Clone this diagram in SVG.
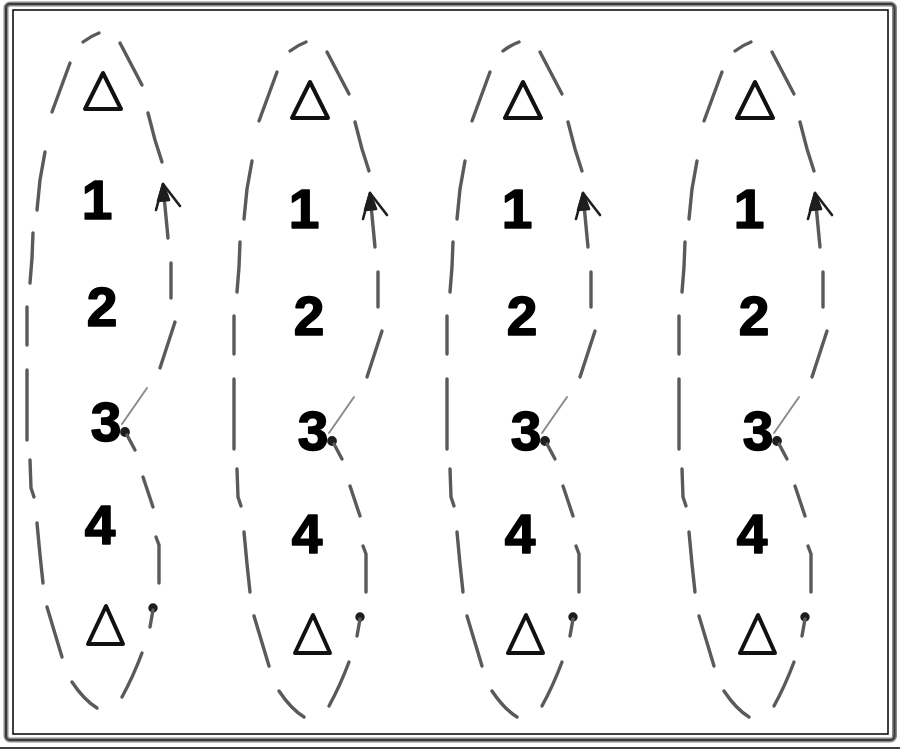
<svg xmlns="http://www.w3.org/2000/svg" xmlns:xlink="http://www.w3.org/1999/xlink" width="900" height="750" viewBox="0 0 900 750">
<style>
.dash{fill:none;stroke:#5a5a5a;stroke-width:3.4;stroke-linecap:round;stroke-linejoin:round}
.thin{fill:none;stroke:#8c8c8c;stroke-width:2;stroke-linecap:round}
.head{fill:#1e1e1e;stroke:#1e1e1e;stroke-width:2.6;stroke-linecap:round;stroke-linejoin:round}
.tri{fill:none;stroke:#111;stroke-width:4;stroke-linejoin:round}
.num{font-family:"Liberation Sans",Arial,sans-serif;font-weight:bold;font-size:55px;fill:#000;stroke:#000;stroke-width:1.6;stroke-linejoin:round;text-anchor:middle}
</style>
<defs>
<g id="loop">
<path class="dash" d="M83,42 Q91,36 99,33"/>
<path class="dash" d="M70,63 L52,112"/>
<path class="dash" d="M45,152 L40,180 L37,210"/>
<path class="dash" d="M33,233 L32,258 L30,283"/>
<path class="dash" d="M27,307 L27,345"/>
<path class="dash" d="M27,370 L27,440"/>
<path class="dash" d="M30,460 L31,488 L34,497"/>
<path class="dash" d="M37,523 L40,555 L43,583"/>
<path class="dash" d="M47,607 L62,657"/>
<path class="dash" d="M72,682 Q84,700 97,708"/>
<path class="dash" d="M120,43 L142,85"/>
<path class="dash" d="M148,113 L155,140 L162,162"/>
<path class="dash" d="M164,196 L168,238"/>
<path class="head" d="M163,184 L158,201 L169,200 Z"/>
<path class="head" d="M163,184 L156,210 M163,184 L180,206"/>
<path class="dash" d="M171,263 L171,298"/>
<path class="dash" d="M175,322 L160,368"/>
<path class="thin" d="M147,388 L122,424"/>
<circle class="head" cx="125" cy="432" r="3.6"/>
<path class="dash" d="M127,435 L135,450"/>
<path class="dash" d="M143,477 L148,492 L153,507"/>
<path class="dash" d="M156,537 L159,545 L159,583"/>
<circle class="head" cx="153" cy="608" r="3.4"/>
<path class="dash" d="M153,610 L150,627"/>
<path class="dash" d="M142,653 Q133,677 122,697"/>
</g>
<path id="triTop" class="tri" d="M103,73 L85,109 L121,109 Z"/>
<path id="triBot" class="tri" d="M106,606 L88,644 L123,644 Z"/>
</defs>

<g id="frame">
<rect x="6" y="4" width="888.5" height="736" rx="4" fill="none" stroke="#8a8a8a" stroke-width="5"/>
<rect x="6" y="4" width="888.5" height="736" rx="4" fill="none" stroke="#3a3a3a" stroke-width="2"/>
<rect x="13" y="10" width="875" height="724" fill="none" stroke="#000" stroke-width="1.5"/>
<line x1="0" y1="748" x2="900" y2="748" stroke="#000" stroke-width="1.5"/>
</g>

<g id="connectors">
<use xlink:href="#loop" transform="translate(0,0)"/>
<use xlink:href="#loop" transform="translate(207,9)"/>
<use xlink:href="#loop" transform="translate(420,9)"/>
<use xlink:href="#loop" transform="translate(652,9)"/>
</g>

<g id="column-1" transform="translate(0,0)">
<g id="c1-top"><use xlink:href="#triTop"/></g>
<g id="c1-n1"><text class="num" x="97" y="219">1</text></g>
<g id="c1-n2"><text class="num" x="102" y="326">2</text></g>
<g id="c1-n3"><text class="num" x="106" y="441">3</text></g>
<g id="c1-n4"><text class="num" x="100" y="544">4</text></g>
<g id="c1-bot"><use xlink:href="#triBot"/></g>
</g>
<g id="column-2" transform="translate(207,9)">
<g id="c2-top"><use xlink:href="#triTop"/></g>
<g id="c2-n1"><text class="num" x="97" y="219">1</text></g>
<g id="c2-n2"><text class="num" x="102" y="326">2</text></g>
<g id="c2-n3"><text class="num" x="106" y="441">3</text></g>
<g id="c2-n4"><text class="num" x="100" y="544">4</text></g>
<g id="c2-bot"><use xlink:href="#triBot"/></g>
</g>
<g id="column-3" transform="translate(420,9)">
<g id="c3-top"><use xlink:href="#triTop"/></g>
<g id="c3-n1"><text class="num" x="97" y="219">1</text></g>
<g id="c3-n2"><text class="num" x="102" y="326">2</text></g>
<g id="c3-n3"><text class="num" x="106" y="441">3</text></g>
<g id="c3-n4"><text class="num" x="100" y="544">4</text></g>
<g id="c3-bot"><use xlink:href="#triBot"/></g>
</g>
<g id="column-4" transform="translate(652,9)">
<g id="c4-top"><use xlink:href="#triTop"/></g>
<g id="c4-n1"><text class="num" x="97" y="219">1</text></g>
<g id="c4-n2"><text class="num" x="102" y="326">2</text></g>
<g id="c4-n3"><text class="num" x="106" y="441">3</text></g>
<g id="c4-n4"><text class="num" x="100" y="544">4</text></g>
<g id="c4-bot"><use xlink:href="#triBot"/></g>
</g>
</svg>
